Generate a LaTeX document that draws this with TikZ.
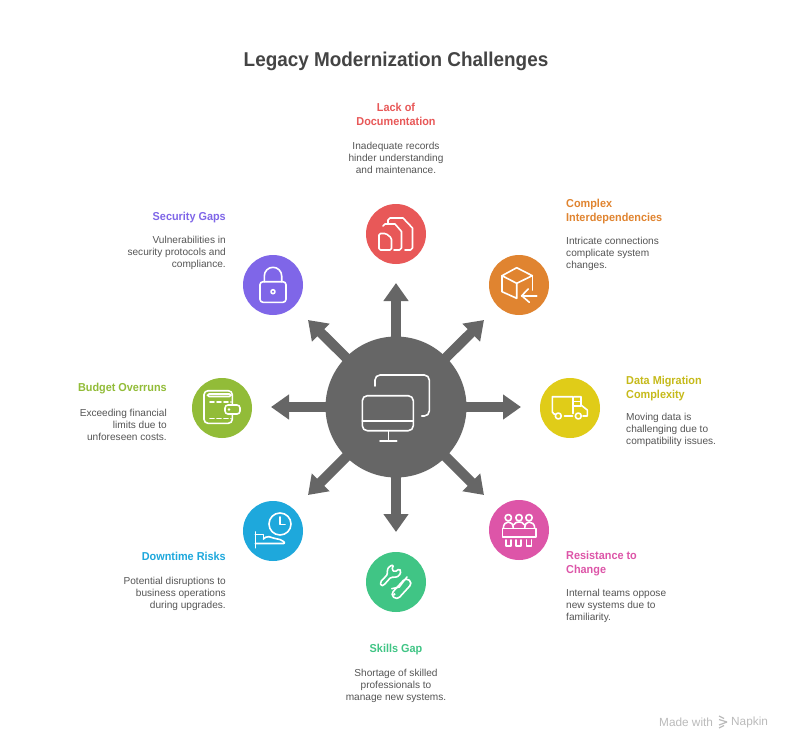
\documentclass[tikz,border=0pt]{standalone}
\usepackage{fontspec}
\setmainfont[BoldFeatures = {FakeStretch = 0.945}]{Liberation Sans}
\usetikzlibrary{arrows.meta}
\tikzstyle{sheet} = [x = 1pt, y = -1pt]
\definecolor{hubColor}{RGB}{102,102,102}
\definecolor{titleColor}{RGB}{68,68,68}
\definecolor{bodyColor}{RGB}{85,85,85}
\definecolor{footColor}{RGB}{187,187,187}
\definecolor{docColor}{RGB}{232,88,88}
\definecolor{linkColor}{RGB}{224,132,48}
\definecolor{dataColor}{RGB}{224,204,24}
\definecolor{teamColor}{RGB}{221,85,168}
\definecolor{skillColor}{RGB}{64,197,133}
\definecolor{downColor}{RGB}{30,168,220}
\definecolor{budgetColor}{RGB}{146,188,56}
\definecolor{lockColor}{RGB}{127,102,232}
\definecolor{dataText}{RGB}{198,186,26}
\tikzstyle{bubble} = [circle, inner sep = 0, minimum size = 60pt]
\tikzstyle{hubBubble} = [circle, inner sep = 0, minimum size = 141pt, fill = hubColor]
\tikzstyle{spoke} = [color = hubColor, line width = 10pt, -{Triangle[length = 18pt, width = 24pt]}]
\tikzstyle{iconLine} = [color = white, line width = 1.6pt, line cap = round, line join = round]
\tikzstyle{titleText} = [inner sep = 0, font = \fontsize{20}{24}\selectfont\bfseries, color = titleColor]
\tikzstyle{headText} = [inner sep = 0, font = \fontsize{11.5}{14}\selectfont\bfseries]
\tikzstyle{bodyText} = [inner sep = 0, font = \fontsize{10.1}{12.2}\selectfont, color = bodyColor]
\tikzstyle{footText} = [inner sep = 0, font = \fontsize{11.8}{14}\selectfont, color = footColor]
\tikzstyle{leftSide} = [anchor = west, align = left]
\tikzstyle{rightSide} = [anchor = east, align = right]
\tikzstyle{middleSide} = [align = center]
\newcommand{\spokeTo}[1]{\draw [spoke] (hub.center) -- (#1);}
\newcommand{\docIcon}[2]{
  \begin{scope}[shift = {(#1,#2)}, iconLine]
    \draw (-8,-10.5) -- (-8,-14) -- (-6,-16) -- (7,-16) -- (16.5,-6) -- (16.5,14) -- (14.5,16) -- (9,16);
    \draw (-13,-8) -- (-11,-10) -- (-1,-10) -- (5.5,-2.5) -- (5.5,14) -- (3.5,16) -- (-2,16);
    \draw [rounded corners = 1.5pt] (-17,-0.5) -- (-10,-0.5) -- (-4.5,4) -- (-4.5,16) -- (-17,16) -- cycle;
  \end{scope}
}
\newcommand{\cubeIcon}[2]{
  \begin{scope}[shift = {(#1,#2)}, iconLine]
    \draw (-2.3,-17.3) -- (13.3,-9.3) -- (-2.3,-1.7) -- (-17,-9.3) -- cycle;
    \draw (-17,-9.3) -- (-17,6.7) -- (-2.3,13.3) -- (-2.3,-1.7);
    \draw (13.3,-9.3) -- (13.3,5);
    \draw (17.7,10.7) -- (2.7,10.7);
    \draw (9.3,4) -- (2.7,10.7) -- (10.3,17.3);
  \end{scope}
}
\newcommand{\truckIcon}[2]{
  \begin{scope}[shift = {(#1,#2)}, iconLine]
    \draw (-15,6) -- (-16,6) -- (-17.7,4) -- (-17.7,-11.3) -- (3,-11.3) -- (3,5.5);
    \draw (4,-11.3) -- (11,-11.3) -- (11,-3) -- (17.3,2) -- (17.3,8) -- (13,8);
    \draw (4,-6.5) -- (11,-6.5);
    \draw (4,-2) -- (11,-2);
    \draw (-5.5,8) -- (2.5,8);
    \draw (-11.7,8) circle (3);
    \draw (8.3,8) circle (3);
  \end{scope}
}
\newcommand{\teamIcon}[2]{
  \begin{scope}[shift = {(#1,#2)}, iconLine]
    \foreach \seat in {-10.7,0,10} {
      \draw (\seat,-12.3) circle (3.2);
    }
    \foreach \seat in {-13.3,-3.3,7.3} {
      \draw (\seat,10) -- (\seat,15.7) -- (\seat+5,15.7) -- (\seat+5,10);
    }
    \draw (-15.7,-1.7) .. controls (-15.7,-6) and (-13,-8) .. (-10.7,-8) .. controls (-8,-8) and (-5.7,-6) .. (-5.7,-1.7);
    \draw (-5.7,-5) .. controls (-4,-7.5) and (-2,-8) .. (0,-8) .. controls (2,-8) and (4,-7.5) .. (5.7,-5);
    \draw (5.7,-1.7) .. controls (5.7,-6) and (8,-8) .. (10,-8) .. controls (13,-8) and (15.7,-6) .. (15.7,-1.7);
    \draw (-16.7,-1.7) rectangle (16.7,6.7);
  \end{scope}
}
\newcommand{\toolIcon}[2]{
  \begin{scope}[shift = {(#1,#2)}, iconLine]
    \draw [rounded corners = 1.5pt] (-15.7,0) -- (-8.3,-7.7) -- (-9,-11.7) -- (-6.7,-15.7) -- (-2.3,-17.3) -- (-4.3,-12.3) -- (-1,-10) -- (3.3,-13.3) -- (5,-11) -- (3.3,-6) -- (-1.7,-4.5) -- (-5,-5) -- (-12.3,3.3) -- (-15,4) -- cycle;
    \draw [rounded corners = 4pt] (-5.5,12.5) -- (10,-4.5) -- (16.5,1) -- (1,18) -- cycle;
    \draw (-4.3,6.7) -- (3.3,5) -- (8.3,-1.7) -- (11,-5);
    \fill [white] (-1.7,12.3) circle (1.3);
  \end{scope}
}
\newcommand{\bedIcon}[2]{
  \begin{scope}[shift = {(#1,#2)}, iconLine]
    \draw (7,-7) circle (11);
    \draw (7,-14) -- (7,-6.5) -- (12,-6.5);
    \draw (-17.7,1) -- (-17.7,16.7);
    \draw (-17.7,3.5) -- (-9.5,3.5) -- (-9.5,8);
    \draw [rounded corners = 2pt] (-9.5,8) -- (-6,5) -- (0,7) -- (9,9) -- (12.5,12.5) -- (-17.7,12.5);
  \end{scope}
}
\newcommand{\walletIcon}[2]{
  \begin{scope}[shift = {(#1,#2)}, iconLine]
    \draw [rounded corners = 4pt] (10.3,-3) -- (10.3,-17.3) -- (-18,-17.3) -- (-18,15.3) -- (10.3,15.3) -- (10.3,6);
    \draw [rounded corners = 1.5pt] (-14.5,-14) rectangle (9,-11.5);
    \draw [rounded corners = 3pt] (3,-3) rectangle (18,6);
    \fill [white] (7,1.5) circle (1.3);
    \draw [dash pattern = on 4pt off 3pt] (-12,-6.3) -- (9,-6.3);
    \draw [dash pattern = on 4pt off 3pt] (-12,10.3) -- (9,10.3);
  \end{scope}
}
\newcommand{\lockIcon}[2]{
  \begin{scope}[shift = {(#1,#2)}, iconLine]
    \draw [rounded corners = 3pt] (-13,-3.3) rectangle (13,17.3);
    \draw (-8.7,-3.3) -- (-8.7,-9) arc (180:360:8.7) -- (8.7,-3.3);
    \draw (0,6.7) circle (2);
  \end{scope}
}
\newcommand{\screenIcon}[2]{
  \begin{scope}[shift = {(#1,#2)}, iconLine]
    \draw [rounded corners = 5pt] (-33.7,-11.3) rectangle (17.3,23.7);
    \draw (-33.7,13.7) -- (17.3,13.7);
    \draw (-7.7,23.7) -- (-7.7,33.7);
    \draw (-16,33.7) -- (0.7,33.7);
    \draw [rounded corners = 5pt] (-21,-21) -- (-21,-32) -- (33.3,-32) -- (33.3,9) -- (25.7,9);
  \end{scope}
}
\begin{document}
\begin{tikzpicture}[sheet]
  \useasboundingbox (0,0) rectangle (792,750);
  \fill [white] (0,0) rectangle (792,750);
  \node [titleText] (title) at (396,61) {Legacy Modernization Challenges};

  \node [hubBubble] (hub) at (396,407) {};
  \coordinate (tipTop) at (396,283);
  \coordinate (tipTopRight) at (484,320);
  \coordinate (tipRight) at (521,407);
  \coordinate (tipBottomRight) at (484,495);
  \coordinate (tipBottom) at (396,532);
  \coordinate (tipBottomLeft) at (308,495);
  \coordinate (tipLeft) at (271,407);
  \coordinate (tipTopLeft) at (308,320);
  \foreach \tip in {tipTop,tipTopRight,tipRight,tipBottomRight,tipBottom,tipBottomLeft,tipLeft,tipTopLeft} {
    \spokeTo{\tip}
  }
  \screenIcon{396}{407}

  \node [bubble, fill = docColor] (docBubble) at (396,234) {};
  \docIcon{396}{234}
  \node [headText, middleSide, color = docColor] (docHead) at (396,114) {Lack of\\Documentation};
  \node [bodyText, middleSide] (docBody) at (396,158) {Inadequate records\\hinder understanding\\and maintenance.};

  \node [bubble, fill = linkColor] (linkBubble) at (519,285) {};
  \cubeIcon{519}{285}
  \node [headText, leftSide, color = linkColor] (linkHead) at (566,211.5) {Complex\\Interdependencies};
  \node [bodyText, leftSide] (linkBody) at (566,254) {Intricate connections\\complicate system\\changes.};

  \node [bubble, fill = dataColor] (dataBubble) at (570,408) {};
  \truckIcon{570}{408}
  \node [headText, leftSide, color = dataText] (dataHead) at (626,388.5) {Data Migration\\Complexity};
  \node [bodyText, leftSide] (dataBody) at (626,430) {Moving data is\\challenging due to\\compatibility issues.};

  \node [bubble, fill = teamColor] (teamBubble) at (519,530) {};
  \teamIcon{519}{530}
  \node [headText, leftSide, color = teamColor] (teamHead) at (566,563.5) {Resistance to\\Change};
  \node [bodyText, leftSide] (teamBody) at (566,606) {Internal teams oppose\\new systems due to\\familiarity.};

  \node [bubble, fill = skillColor] (skillBubble) at (396,582) {};
  \toolIcon{396}{582}
  \node [headText, middleSide, color = skillColor] (skillHead) at (396,649.5) {Skills Gap};
  \node [bodyText, middleSide] (skillBody) at (396,686) {Shortage of skilled\\professionals to\\manage new systems.};

  \node [bubble, fill = downColor] (downBubble) at (273,531) {};
  \bedIcon{273}{531}
  \node [headText, rightSide, color = downColor] (downHead) at (226,556) {Downtime Risks};
  \node [bodyText, rightSide] (downBody) at (226,594) {Potential disruptions to\\business operations\\during upgrades.};

  \node [bubble, fill = budgetColor] (budgetBubble) at (222,408) {};
  \walletIcon{222}{408}
  \node [headText, rightSide, color = budgetColor] (budgetHead) at (167,388.5) {Budget Overruns};
  \node [bodyText, rightSide] (budgetBody) at (167,425) {Exceeding financial\\limits due to\\unforeseen costs.};

  \node [bubble, fill = lockColor] (lockBubble) at (273,285) {};
  \lockIcon{273}{285}
  \node [headText, rightSide, color = lockColor] (lockHead) at (226,217.5) {Security Gaps};
  \node [bodyText, rightSide] (lockBody) at (226,253) {Vulnerabilities in\\security protocols and\\compliance.};

  \node [footText, anchor = west] (madeWith) at (659,722.5) {Made with};
  \node [footText, anchor = west] (napkin) at (731,722.5) {Napkin};
  \draw [footColor, line width = 1.2pt] (719,716) -- (724,718.5);
  \draw [footColor, line width = 1.2pt] (719,719.5) -- (727,722);
  \draw [footColor, line width = 1.2pt] (727,722) -- (719,725);
  \draw [footColor, line width = 1.2pt] (724,725.5) -- (719,728);
\end{tikzpicture}
\end{document}
